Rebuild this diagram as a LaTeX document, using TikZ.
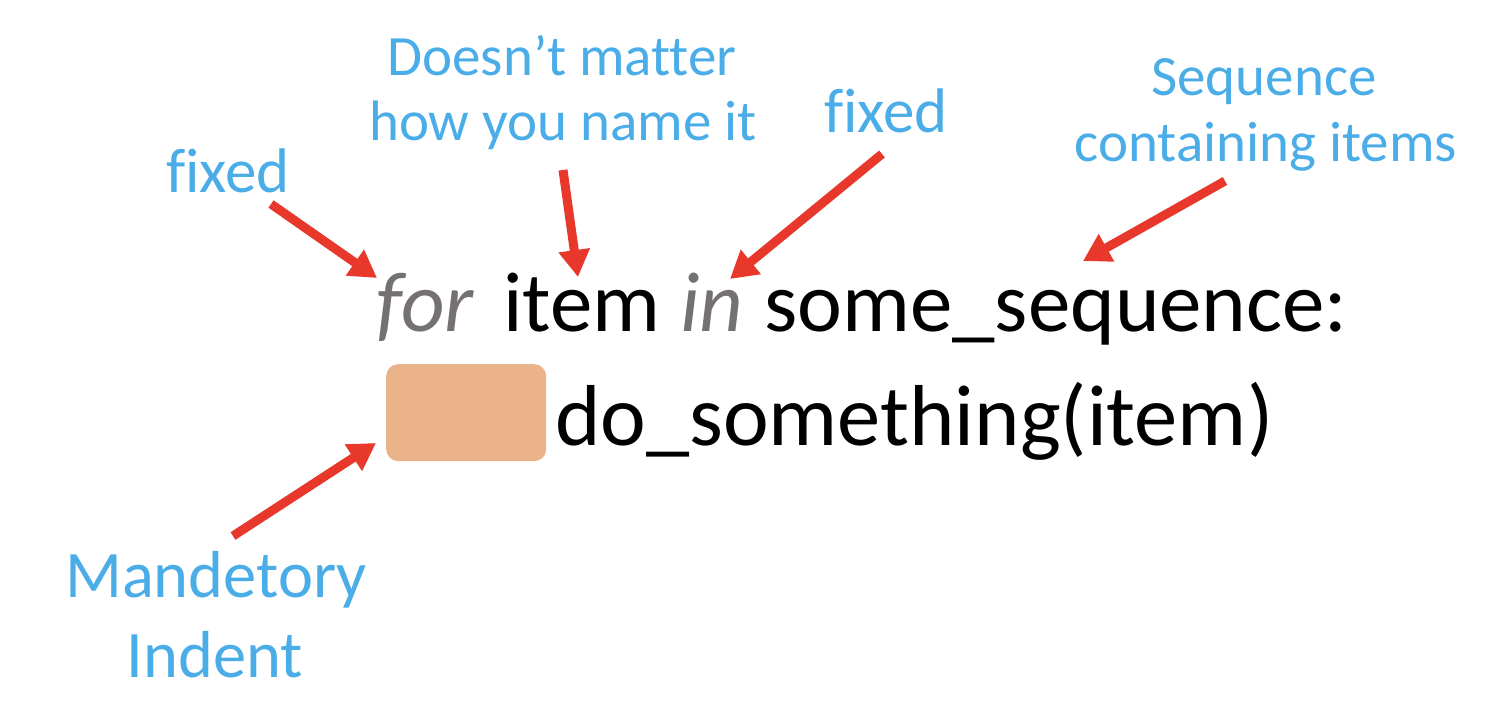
\documentclass[tikz,border=0pt]{standalone}
\usepackage{fontspec}
\setmainfont{Carlito}[Ligatures={NoCommon}]
\usetikzlibrary{arrows.meta}
\definecolor{lblblue}{HTML}{4BADE8}
\definecolor{kwgray}{HTML}{767171}
\definecolor{arrred}{HTML}{E8382B}
\definecolor{indentfill}{HTML}{EBB38A}
\tikzset{
  code/.style={inner sep=0pt, anchor=base west, font=\fontsize{85}{100}\selectfont, text=black},
  codebig/.style={code, font=\fontsize{86.5}{100}\selectfont},
  kw/.style={code, text=kwgray, font=\fontsize{85}{100}\selectfont\itshape},
  lbl/.style={inner sep=0pt, anchor=base, text=lblblue, font=\fontsize{57}{66}\selectfont},
  lblbig/.style={lbl, font=\fontsize{63}{72}\selectfont},
  lblhuge/.style={lbl, font=\fontsize{66.5}{80}\selectfont},
  pointer/.style={draw=arrred, line width=9pt, -{Triangle[length=27pt,width=30pt]}},
  indentbox/.style={fill=indentfill, rounded corners=12pt}
}
\begin{document}
\begin{tikzpicture}[x=1pt,y=-1pt]
\useasboundingbox (0,0) rectangle (1494,704);
% code lines
\node[kw] (forw) at (376,331) {for};
\node[code] (itemw) at (503,331) {item};
\node[kw] (inw) at (680,331) {in};
\node[code] (seqw) at (764,331) {some\_sequence:};
\node[indentbox, minimum width=160pt, minimum height=97pt, anchor=north west] (indent) at (386,364) {};
\node[codebig] (call) at (555,445) {do\_something(item)};
% labels
\node[lblbig] (fixA) at (228,192) {f\kern0pt ixed};
\node[lbl] (dm1) at (562,75) {Doesn’t matter};
\node[lbl] (dm2) at (563,140) {how you name it};
\node[lblbig] (fixB) at (886,132) {f\kern0pt ixed};
\node[lbl] (sq1) at (1264,95) {Sequence};
\node[lbl] (sq2) at (1266,161) {containing items};
\node[lblhuge] (md1) at (216,597) {Mandetory};
\node[lblhuge] (md2) at (215,677) {Indent};
% arrow ends
\coordinate (a1s) at (271,204);
\coordinate (a1e) at (377,278);
\coordinate (a2s) at (563,170);
\coordinate (a2e) at (578,277);
\coordinate (a3s) at (882,154);
\coordinate (a3e) at (730,279);
\coordinate (a4s) at (1225,181);
\coordinate (a4e) at (1083,261);
\coordinate (a5s) at (233,536);
\coordinate (a5e) at (376,443);
\draw[pointer] (a1s) -- (a1e);
\draw[pointer] (a2s) -- (a2e);
\draw[pointer] (a3s) -- (a3e);
\draw[pointer] (a4s) -- (a4e);
\draw[pointer] (a5s) -- (a5e);
\end{tikzpicture}
\end{document}
